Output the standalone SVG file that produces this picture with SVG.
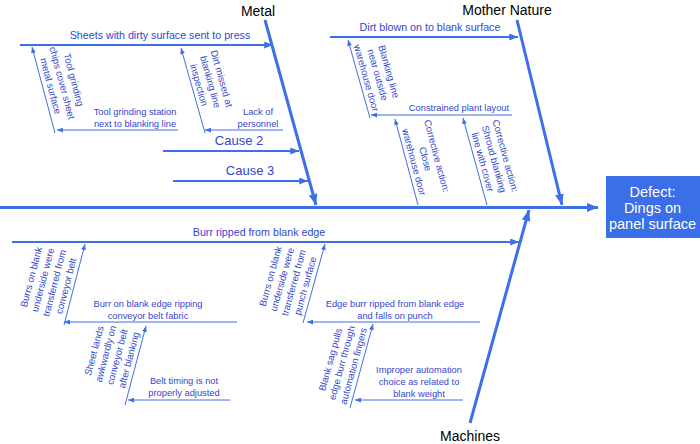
<svg xmlns="http://www.w3.org/2000/svg" width="700" height="444" viewBox="0 0 700 444">
<style>
text{font-family:"Liberation Sans",Arial,sans-serif}
.cat{font-size:14px;fill:#000}
.br{font-size:10.7px;fill:#3347cc}
.cz{font-size:13px;fill:#3347cc}
.s{font-size:9.3px;fill:#3347cc}
.r{font-size:9.6px;fill:#3347cc}
.bone{stroke:#3d6fe8;stroke-width:3;fill:none}
.b{stroke:#3d6fe8;stroke-width:2.2;fill:none}
.t{stroke:#3d6fe8;stroke-width:1;fill:none}
.bx{font-size:14.5px;fill:#fff}
</style>
<defs>
<marker id="ah" viewBox="0 0 10 8" refX="10" refY="4" markerWidth="11" markerHeight="9" markerUnits="userSpaceOnUse" orient="auto"><path d="M0,0L10,4L0,8z" fill="#3d6fe8"/></marker>
<marker id="am" viewBox="0 0 10 8" refX="10" refY="4" markerWidth="9" markerHeight="7" markerUnits="userSpaceOnUse" orient="auto"><path d="M0,0L10,4L0,8z" fill="#3d6fe8"/></marker>
<marker id="as" viewBox="0 0 10 8" refX="10" refY="4" markerWidth="6" markerHeight="5" markerUnits="userSpaceOnUse" orient="auto"><path d="M0,0L10,4L0,8z" fill="#3d6fe8"/></marker>
</defs>
<g id="connectors">
<line class="bone" x1="0" y1="207.5" x2="598" y2="207.5" marker-end="url(#ah)"/>
<line class="bone" x1="265" y1="20" x2="316" y2="205" marker-end="url(#ah)"/>
<line class="bone" x1="517" y1="20" x2="562" y2="205" marker-end="url(#ah)"/>
<line class="bone" x1="470" y1="423" x2="529" y2="210" marker-end="url(#ah)"/>
<line class="b" x1="20" y1="45" x2="273" y2="45" marker-end="url(#am)"/>
<line class="b" x1="163" y1="151" x2="299" y2="151" marker-end="url(#am)"/>
<line class="b" x1="173" y1="181" x2="308" y2="181" marker-end="url(#am)"/>
<line class="b" x1="330" y1="37" x2="518" y2="37" marker-end="url(#am)"/>
<line class="b" x1="12" y1="242" x2="519" y2="242" marker-end="url(#am)"/>
<line class="t" x1="178" y1="130" x2="57" y2="130" marker-end="url(#as)"/>
<line class="t" x1="283" y1="130" x2="205" y2="130" marker-end="url(#as)"/>
<line class="t" x1="512" y1="115" x2="371" y2="115" marker-end="url(#as)"/>
<line class="t" x1="237" y1="322" x2="64" y2="322" marker-end="url(#as)"/>
<line class="t" x1="230" y1="400" x2="128" y2="400" marker-end="url(#as)"/>
<line class="t" x1="480" y1="322" x2="307" y2="322" marker-end="url(#as)"/>
<line class="t" x1="463" y1="400" x2="355" y2="400" marker-end="url(#as)"/>
<line class="t" x1="55" y1="133" x2="32" y2="47" marker-end="url(#as)"/>
<line class="t" x1="205" y1="133" x2="181" y2="48" marker-end="url(#as)"/>
<line class="t" x1="370" y1="118" x2="348" y2="40" marker-end="url(#as)"/>
<line class="t" x1="418" y1="205" x2="395" y2="119" marker-end="url(#as)"/>
<line class="t" x1="487" y1="205" x2="463" y2="118" marker-end="url(#as)"/>
<line class="t" x1="64" y1="325" x2="85" y2="244" marker-end="url(#as)"/>
<line class="t" x1="125" y1="405" x2="146" y2="326" marker-end="url(#as)"/>
<line class="t" x1="303" y1="323" x2="325" y2="244" marker-end="url(#as)"/>
<line class="t" x1="350" y1="408" x2="373" y2="324" marker-end="url(#as)"/>
</g>
<g id="defect">
<rect x="606" y="176" width="94" height="62" fill="#3b6fe8"/>
<text class="bx" text-anchor="middle"><tspan x="652.5" y="196.5">Defect:</tspan><tspan x="652.5" y="212.5">Dings on</tspan><tspan x="652.5" y="228.5">panel surface</tspan></text>
</g>
<g id="metal"><text class="cat" x="258" y="16" text-anchor="middle">Metal</text></g>
<g id="mother-nature"><text class="cat" x="507" y="15" text-anchor="middle">Mother Nature</text></g>
<g id="machines"><text class="cat" x="470" y="441" text-anchor="middle">Machines</text></g>
<g id="sheets"><text class="br" x="160" y="39" text-anchor="middle">Sheets with dirty surface sent to press</text></g>
<g id="cause2"><text class="cz" x="239" y="145" text-anchor="middle">Cause 2</text></g>
<g id="cause3"><text class="cz" x="250" y="175" text-anchor="middle">Cause 3</text></g>
<g id="dirt-blown"><text class="br" x="430" y="31" text-anchor="middle">Dirt blown on to blank surface</text></g>
<g id="burr-ripped"><text class="br" x="259" y="236" text-anchor="middle">Burr ripped from blank edge</text></g>
<g id="tool-station"><text class="s" text-anchor="middle"><tspan x="135" y="115">Tool grinding station</tspan><tspan x="135" y="127">next to blanking line</tspan></text></g>
<g id="lack"><text class="s" text-anchor="middle"><tspan x="258" y="115">Lack of</tspan><tspan x="258" y="127">personnel</tspan></text></g>
<g id="constrained"><text class="s" x="459" y="111" text-anchor="middle">Constrained plant layout</text></g>
<g id="burr-belt"><text class="s" text-anchor="middle"><tspan x="148" y="307">Burr on blank edge ripping</tspan><tspan x="148" y="318.5">conveyor belt fabric</tspan></text></g>
<g id="belt-timing"><text class="s" text-anchor="middle"><tspan x="184" y="384">Belt timing is not</tspan><tspan x="184" y="395.5">properly adjusted</tspan></text></g>
<g id="edge-burr"><text class="s" text-anchor="middle"><tspan x="395" y="307">Edge burr ripped from blank edge</tspan><tspan x="395" y="318.5">and falls on punch</tspan></text></g>
<g id="improper"><text class="s" text-anchor="middle"><tspan x="419" y="373">Improper automation</tspan><tspan x="419" y="385">choice as related to</tspan><tspan x="419" y="397">blank weight</tspan></text></g>
<g id="tool-chips" transform="translate(43,88) rotate(75)"><text class="r" text-anchor="middle"><tspan x="0" y="-28.5">Tool grinding</tspan><tspan x="0" y="-16.5">chips cover sheet</tspan><tspan x="0" y="-4.5">metal surface</tspan></text></g>
<g id="dirt-missed" transform="translate(192,87) rotate(74.2)"><text class="r" text-anchor="middle"><tspan x="0" y="-27.5">Dirt missed at</tspan><tspan x="0" y="-15.75">blanking line</tspan><tspan x="0" y="-4">inspection</tspan></text></g>
<g id="blanking-door" transform="translate(359.3,80) rotate(74.2)"><text class="r" text-anchor="middle"><tspan x="0" y="-27.5">Blanking line</tspan><tspan x="0" y="-15.75">near outside</tspan><tspan x="0" y="-4">warehouse door</tspan></text></g>
<g id="close-door" transform="translate(407,164) rotate(75)"><text class="r" text-anchor="middle"><tspan x="0" y="-27.5">Corrective action:</tspan><tspan x="0" y="-15.75">Close</tspan><tspan x="0" y="-4">warehouse door</tspan></text></g>
<g id="shroud" transform="translate(475.7,164) rotate(74.6)"><text class="r" text-anchor="middle"><tspan x="0" y="-27.5">Corrective action:</tspan><tspan x="0" y="-15.75">Shroud blanking</tspan><tspan x="0" y="-4">line with cover</tspan></text></g>
<g id="burrs-belt" transform="translate(73.6,288) rotate(-75.5)"><text class="r" text-anchor="middle"><tspan x="0" y="-40.5">Burrs on blank</tspan><tspan x="0" y="-28.5">underside were</tspan><tspan x="0" y="-16.5">transferred from</tspan><tspan x="0" y="-4.5">conveyor belt</tspan></text></g>
<g id="sheet-lands" transform="translate(136.4,362) rotate(-75.1)"><text class="r" text-anchor="middle"><tspan x="0" y="-40.5">Sheet lands</tspan><tspan x="0" y="-28.5">awkwardly on</tspan><tspan x="0" y="-16.5">conveyor belt</tspan><tspan x="0" y="-4.5">after blanking</tspan></text></g>
<g id="burrs-punch" transform="translate(312.7,288) rotate(-74.4)"><text class="r" text-anchor="middle"><tspan x="0" y="-40.5">Burrs on blank</tspan><tspan x="0" y="-28.5">underside were</tspan><tspan x="0" y="-16.5">transferred from</tspan><tspan x="0" y="-4.5">punch surface</tspan></text></g>
<g id="blank-sag" transform="translate(361,368) rotate(-74.7)"><text class="r" text-anchor="middle"><tspan x="0" y="-28.5">Blank sag pulls</tspan><tspan x="0" y="-16.5">edge burr through</tspan><tspan x="0" y="-4.5">automation fingers</tspan></text></g>
</svg>
